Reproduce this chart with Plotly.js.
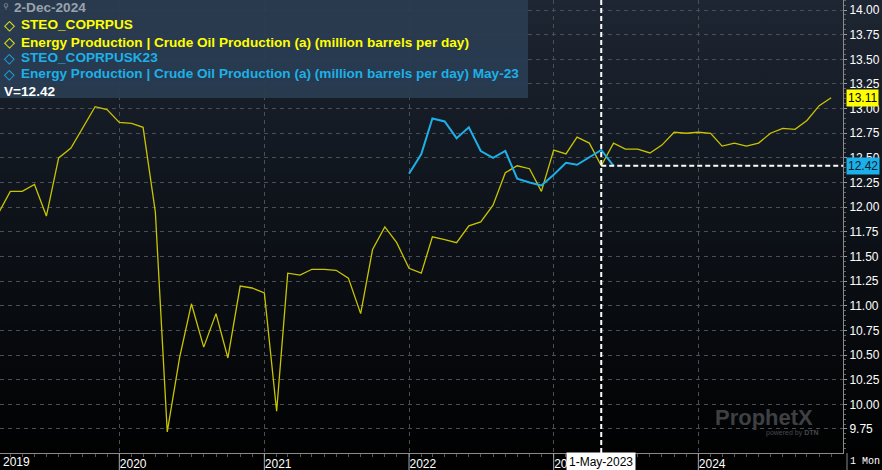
<!DOCTYPE html>
<html>
<head>
<meta charset="utf-8">
<script src="https://cdn.plot.ly/plotly-3.0.1.min.js"></script>
<style>
  html, body { margin: 0; padding: 0; background: #000; }
  #chart {
    width: 882px; height: 470px;
    background: linear-gradient(to bottom, #1e2633 0%, #0e131a 45%, #000 100%);
  }
</style>
</head>
<body>
<div id="chart"></div>
<script>
// monthly points, Mar 2019 .. Dec 2024
const prodMonths = [
  '2019-03','2019-04','2019-05','2019-06','2019-07','2019-08','2019-09','2019-10','2019-11','2019-12',
  '2020-01','2020-02','2020-03','2020-04','2020-05','2020-06','2020-07','2020-08','2020-09','2020-10','2020-11','2020-12',
  '2021-01','2021-02','2021-03','2021-04','2021-05','2021-06','2021-07','2021-08','2021-09','2021-10','2021-11','2021-12',
  '2022-01','2022-02','2022-03','2022-04','2022-05','2022-06','2022-07','2022-08','2022-09','2022-10','2022-11','2022-12',
  '2023-01','2023-02','2023-03','2023-04','2023-05','2023-06','2023-07','2023-08','2023-09','2023-10','2023-11','2023-12',
  '2024-01','2024-02','2024-03','2024-04','2024-05','2024-06','2024-07','2024-08','2024-09','2024-10','2024-11','2024-12'
];
const prodValues = [
  11.93, 12.16, 12.16, 12.23, 11.91, 12.50, 12.60, 12.81, 13.02, 12.99,
  12.86, 12.85, 12.81, 11.95, 9.72, 10.47, 11.02, 10.58, 10.92, 10.47, 11.20, 11.18,
  11.13, 9.93, 11.33, 11.31, 11.37, 11.37, 11.36, 11.28, 10.92, 11.57, 11.80, 11.64,
  11.38, 11.33, 11.70, 11.67, 11.64, 11.81, 11.85, 12.02, 12.35, 12.42, 12.39, 12.16,
  12.58, 12.54, 12.71, 12.65, 12.42, 12.65, 12.59, 12.59, 12.55, 12.63, 12.76, 12.75,
  12.76, 12.75, 12.62, 12.65, 12.62, 12.65, 12.75, 12.80, 12.79, 12.88, 13.03, 13.11
];

// May-23 STEO vintage, Jan 2022 .. Jun 2023
const steoMonths = [
  '2022-01','2022-02','2022-03','2022-04','2022-05','2022-06','2022-07','2022-08','2022-09','2022-10','2022-11','2022-12',
  '2023-01','2023-02','2023-03','2023-04','2023-05','2023-06'
];
const steoValues = [
  12.34, 12.54, 12.90, 12.87, 12.70, 12.81, 12.57, 12.50, 12.57, 12.29, 12.25, 12.22,
  12.33, 12.45, 12.43, 12.51, 12.58, 12.42
];

const yearTicks = ['2020-01-01', '2021-01-01', '2022-01-01', '2023-01-01', '2024-01-01'];
const yearLabels = ['2020', '2021', '2022', '2023', '2024'];
const cursorDate = '2023-05-01';
const cursorValue = 12.42;
const lastProd = 13.11;
const lastSteo = 12.42;

const YELLOW = '#c8c400';
const YELLOW_TXT = '#ffff00';
const BLUE = '#1db0e8';
const NARROW = '"Liberation Sans Narrow", "Arial Narrow", "Liberation Sans", Arial, sans-serif';
const SANS = '"Liberation Sans", Arial, sans-serif';

// plot area is 843 x 453 px; helpers to place overlay pieces in paper space
const PW = 843, PH = 453;
const px = x => x / PW;
const py = y => 1 - y / PH;

const data = [
  {
    x: prodMonths, y: prodValues, type: 'scatter', mode: 'lines',
    line: { color: YELLOW, width: 1.3 }, hoverinfo: 'skip'
  },
  {
    x: steoMonths, y: steoValues, type: 'scatter', mode: 'lines',
    line: { color: BLUE, width: 2 }, hoverinfo: 'skip'
  }
];

const shapes = [
  // legend panel
  { type: 'rect', xref: 'paper', yref: 'paper', x0: px(0), x1: px(528), y0: py(0), y1: py(98),
    fillcolor: 'rgba(42,60,82,0.93)', line: { width: 0 }, layer: 'above' },
  // crosshair
  { type: 'line', xref: 'x', yref: 'paper', x0: cursorDate, x1: cursorDate, y0: 0, y1: 1,
    line: { color: '#ffffff', width: 2, dash: '5px,3px' } },
  { type: 'line', xref: 'x', yref: 'y', x0: cursorDate, x1: '2025-01-01', y0: cursorValue, y1: cursorValue,
    line: { color: '#ffffff', width: 2, dash: '5px,3px' } },
  // bottom-right corner divider
  { type: 'line', xref: 'paper', yref: 'paper', x0: px(847), x1: px(847), y0: 0, y1: py(470),
    line: { color: '#888', width: 1 } }
];
// year separators in the date band
yearTicks.forEach(d => shapes.push({
  type: 'line', xref: 'x', yref: 'paper', x0: d, x1: d, y0: 0, y1: py(470),
  line: { color: '#aaa', width: 1 }
}));

const legendRows = [
  { text: '2-Dec-2024', x: 13, y: 8, color: '#9aa3ad' },
  { text: '◇', x: 3, y: 25, color: YELLOW_TXT },
  { text: 'STEO_COPRPUS', x: 20, y: 25, color: YELLOW_TXT },
  { text: '◇', x: 3, y: 42, color: YELLOW_TXT },
  { text: 'Energy Production | Crude Oil Production (a) (million barrels per day)', x: 20, y: 42, color: YELLOW_TXT },
  { text: '◇', x: 3, y: 58, color: BLUE },
  { text: 'STEO_COPRPUSK23', x: 20, y: 58, color: BLUE },
  { text: '◇', x: 3, y: 74, color: BLUE },
  { text: 'Energy Production | Crude Oil Production (a) (million barrels per day) May-23', x: 20, y: 74, color: BLUE },
  { text: 'V=' + cursorValue.toFixed(2), x: 3, y: 91, color: '#ffffff' }
];

const annotations = legendRows.map(r => ({
  xref: 'paper', yref: 'paper', x: px(r.x), y: py(r.y), xanchor: 'left', yanchor: 'middle',
  text: r.text === '◇' ? r.text : '<b>' + r.text + '</b>', showarrow: false,
  font: { family: r.text === '◇' ? '"DejaVu Sans", sans-serif' : SANS, size: r.text === '◇' ? 14 : 13.6, color: r.color },
  borderpad: 0
}));

annotations.push(
  { xref: 'paper', yref: 'paper', x: px(1), y: py(7), xanchor: 'left', yanchor: 'middle',
    text: '⚲', showarrow: false, font: { family: '"DejaVu Sans", sans-serif', size: 8, color: '#8a939d' } },
  // first year label pinned at left edge
  { xref: 'paper', yref: 'paper', x: px(1), y: py(462), xanchor: 'left', yanchor: 'middle',
    text: '2019', showarrow: false, font: { family: NARROW, size: 12, color: '#ffffff' } },
  // cursor date box
  { xref: 'x', yref: 'paper', x: cursorDate, y: py(461.5), xanchor: 'center', yanchor: 'middle',
    text: '1-May-2023', showarrow: false, bgcolor: '#ffffff', borderpad: 2,
    font: { family: NARROW, size: 12, color: '#000000' } },
  // period box
  { xref: 'paper', yref: 'paper', x: px(848), y: py(461.5), xanchor: 'left', yanchor: 'middle',
    text: '1 Mon', showarrow: false, font: { family: '"Liberation Mono", "DejaVu Sans Mono", monospace', size: 10, color: '#ffffff' } },
  // last-value tags on the price axis
  { xref: 'paper', yref: 'y', x: px(846), y: lastProd, xanchor: 'left', yanchor: 'middle',
    text: lastProd.toFixed(2), showarrow: false, bgcolor: '#ffff00', borderpad: 1,
    font: { family: SANS, size: 12, color: '#000000' } },
  { xref: 'paper', yref: 'y', x: px(846), y: lastSteo, xanchor: 'left', yanchor: 'middle',
    text: lastSteo.toFixed(2), showarrow: false, bgcolor: BLUE, borderpad: 1,
    font: { family: SANS, size: 12, color: '#06202e' } },
  // watermark
  { xref: 'paper', yref: 'paper', x: px(764), y: py(417), xanchor: 'center', yanchor: 'middle',
    text: '<b>ProphetX</b>', showarrow: false, font: { family: SANS, size: 22, color: '#3e4043' } },
  { xref: 'paper', yref: 'paper', x: px(792), y: py(433), xanchor: 'center', yanchor: 'middle',
    text: 'powered by <b>DTN</b>', showarrow: false, font: { family: SANS, size: 7, color: '#47494c' } }
);

const layout = {
  width: 882, height: 470,
  margin: { l: 0, r: 39, t: 0, b: 17, pad: 0 },
  paper_bgcolor: 'rgba(0,0,0,0)',
  plot_bgcolor: 'rgba(0,0,0,0)',
  showlegend: false,
  xaxis: {
    type: 'date',
    range: ['2019-03-06', '2024-12-31'],
    tickmode: 'array', tickvals: yearTicks, ticktext: yearLabels,
    ticklabelposition: 'outside right',
    ticks: '', ticklabelstandoff: 0,
    tickfont: { family: NARROW, size: 12, color: '#ffffff' },
    showgrid: true, gridcolor: '#4a4f57', gridwidth: 1, griddash: '4px,4px',
    showline: true, linecolor: '#8a8a8a', linewidth: 1,
    minor: { tickmode: 'linear', tick0: '2019-01-01', dtick: 'M1', ticks: 'outside', ticklen: 3, tickcolor: '#555', showgrid: false },
    zeroline: false, fixedrange: true
  },
  yaxis: {
    side: 'right',
    range: [9.506, 14.102],
    tickmode: 'linear', tick0: 9.75, dtick: 0.25, tickformat: '.2f',
    ticks: 'outside', ticklen: 3, tickcolor: '#999',
    tickfont: { family: SANS, size: 12, color: '#ffffff' },
    showgrid: true, gridcolor: '#4a4f57', gridwidth: 1, griddash: '4px,4px',
    showline: true, linecolor: '#8a8a8a', linewidth: 1,
    minor: { dtick: 0.05, ticks: 'outside', ticklen: 2, tickcolor: '#666', showgrid: false },
    zeroline: false, fixedrange: true
  },
  shapes: shapes,
  annotations: annotations
};

Plotly.newPlot('chart', data, layout, { displayModeBar: false, staticPlot: true });
</script>
</body>
</html>
